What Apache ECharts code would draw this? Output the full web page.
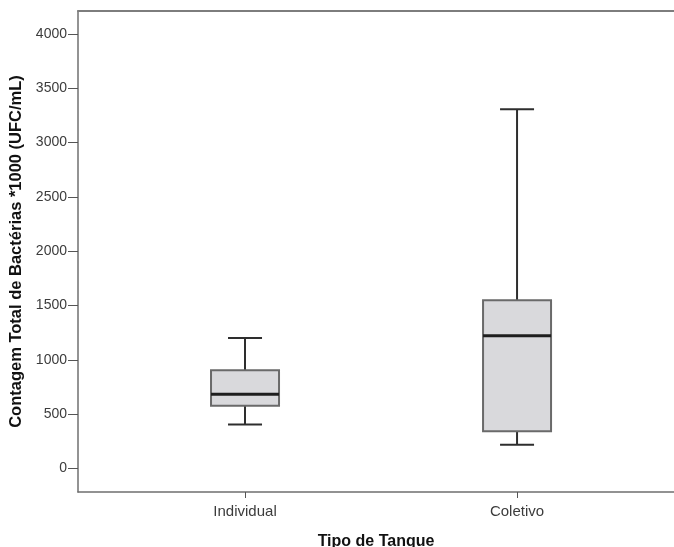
<!DOCTYPE html>
<html>
<head>
<meta charset="utf-8">
<script src="https://cdn.jsdelivr.net/npm/echarts@6/dist/echarts.min.js"></script>
<style>
html,body{margin:0;padding:0;background:#fff;}
#chart{width:674px;height:547px;}
</style>
</head>
<body>
<div id="chart"></div>
<script>
// Data
var categories = ['Individual', 'Coletivo'];
var positions = [1, 2];
var mins = [403, 218];
var q1s = [576, 341];
var medians = [682, 1220];
var q3s = [903, 1548];
var maxs = [1200, 3306];
var yTicks = [0, 500, 1000, 1500, 2000, 2500, 3000, 3500, 4000];

var seriesData = positions.map(function (p, i) {
  return [p, mins[i], q1s[i], medians[i], q3s[i], maxs[i]];
});

var chart = echarts.init(document.getElementById('chart'));
var FONT = '"Liberation Sans", Arial, sans-serif';

chart.setOption({
  animation: false,
  backgroundColor: '#ffffff',
  grid: { left: 78, right: 0, top: 11, bottom: 55, containLabel: false, outerBoundsMode: 'none' },
  xAxis: [{
    type: 'value',
    min: 0.386,
    max: 2.577,
    splitLine: { show: false },
    axisLine: { show: true, onZero: false, lineStyle: { color: '#6f6f6f', width: 1.5 } },
    axisTick: { show: true, customValues: positions, length: 6, lineStyle: { color: '#555', width: 1 } },
    axisLabel: {
      customValues: positions,
      formatter: function (v) { var i = positions.indexOf(v); return i >= 0 ? categories[i] : ''; },
      color: '#3c3c3c', fontSize: 15, fontFamily: FONT, margin: 12
    },
    name: 'Tipo de Tanque',
    nameLocation: 'middle',
    nameGap: 42,
    nameTextStyle: { fontWeight: 'bold', fontSize: 16, color: '#111', fontFamily: FONT }
  }, {
    type: 'value',
    position: 'top',
    min: 0.386,
    max: 2.577,
    axisLine: { show: true, onZero: false, lineStyle: { color: '#7d7d7d', width: 2 } },
    axisTick: { show: false },
    axisLabel: { show: false },
    splitLine: { show: false }
  }],
  yAxis: {
    type: 'value',
    min: -218,
    max: 4212,
    splitLine: { show: false },
    axisLine: { show: true, onZero: false, lineStyle: { color: '#6f6f6f', width: 1.5 } },
    axisTick: { show: true, customValues: yTicks, length: 10, lineStyle: { color: '#555', width: 1 } },
    axisLabel: {
      customValues: yTicks, color: '#3c3c3c', fontSize: 14, fontFamily: FONT, margin: 11,
      formatter: function (v) { return String(v); }
    },
    name: 'Contagem Total de Bactérias *1000 (UFC/mL)',
    nameLocation: 'middle',
    nameGap: 51,
    nameTextStyle: { fontWeight: 'bold', fontSize: 16.5, color: '#111', fontFamily: FONT }
  },
  series: [{
    type: 'custom',
    xAxisIndex: 0,
    data: seriesData,
    encode: { x: 0, y: [1, 2, 3, 4, 5] },
    renderItem: function (params, api) {
      var x = api.value(0);
      var pMin = api.coord([x, api.value(1)]);
      var pQ1 = api.coord([x, api.value(2)]);
      var pMed = api.coord([x, api.value(3)]);
      var pQ3 = api.coord([x, api.value(4)]);
      var pMax = api.coord([x, api.value(5)]);
      var cx = pMin[0];
      var bw = 68, cw = 34;
      var whisk = { stroke: '#2e2e2e', lineWidth: 2 };
      return {
        type: 'group',
        children: [
          { type: 'line', shape: { x1: cx, y1: pMax[1], x2: cx, y2: pQ3[1] }, style: whisk },
          { type: 'line', shape: { x1: cx, y1: pQ1[1], x2: cx, y2: pMin[1] }, style: whisk },
          { type: 'line', shape: { x1: cx - cw / 2, y1: pMax[1], x2: cx + cw / 2, y2: pMax[1] }, style: whisk },
          { type: 'line', shape: { x1: cx - cw / 2, y1: pMin[1], x2: cx + cw / 2, y2: pMin[1] }, style: whisk },
          { type: 'rect', shape: { x: cx - bw / 2, y: pQ3[1], width: bw, height: pQ1[1] - pQ3[1] },
            style: { fill: '#d9d9dc', stroke: '#6a6a6a', lineWidth: 2 } },
          { type: 'line', shape: { x1: cx - bw / 2, y1: pMed[1], x2: cx + bw / 2, y2: pMed[1] },
            style: { stroke: '#1e1e1e', lineWidth: 3 } }
        ]
      };
    }
  }]
});
</script>
</body>
</html>
